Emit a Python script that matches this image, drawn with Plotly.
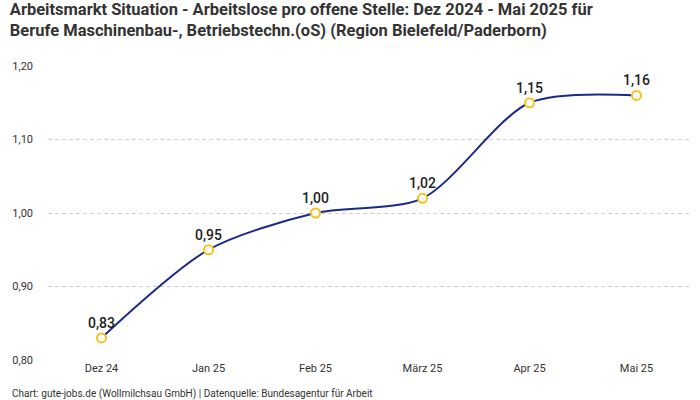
import plotly.graph_objects as go

months = ["Dez 24", "Jan 25", "Feb 25", "März 25", "Apr 25", "Mai 25"]
values = [0.83, 0.95, 1.00, 1.02, 1.15, 1.16]
y_ticks = [0.80, 0.90, 1.00, 1.10, 1.20]

title = ("Arbeitsmarkt Situation - Arbeitslose pro offene Stelle: Dez 2024 - Mai 2025 für<br>"
         "Berufe Maschinenbau-, Betriebstechn.(oS) (Region Bielefeld/Paderborn)")
footer = "Chart: gute-jobs.de (Wollmilchsau GmbH) | Datenquelle: Bundesagentur für Arbeit"

fig = go.Figure()
fig.add_trace(go.Scatter(
    x=months, y=values,
    mode="lines+markers+text",
    line=dict(color="#1b2a8a", width=2, shape="spline", smoothing=0.8),
    marker=dict(symbol="circle", size=9, color="white",
                line=dict(color="#f7c21a", width=2)),
    text=[f"{v:.2f}".replace(".", ",") for v in values],
    textposition="top center",
    textfont=dict(family="Roboto", size=14, color="#222222", weight=500),
    hoverinfo="skip",
    cliponaxis=False,
))

fig.update_layout(
    width=700, height=400,
    margin=dict(l=48, r=10, t=66, b=40),
    paper_bgcolor="white", plot_bgcolor="white",
    separators=",.",
    showlegend=False,
    title=dict(text=title, x=0.014, xanchor="left", y=0.9625, yanchor="top",
               font=dict(family="Roboto", size=16.5, color="#333333", weight="bold")),
    xaxis=dict(type="category", range=[-0.5, 5.5], showgrid=False, showline=False,
               ticks="", tickfont=dict(family="Roboto", size=11, color="#333333")),
    yaxis=dict(range=[0.80, 1.20], tickvals=y_ticks, tickformat=".2f",
               showgrid=True, gridcolor="#cfcfcf", griddash="4px,3px", gridwidth=1,
               zeroline=False, showline=False, ticks="",
               ticklabelstandoff=14,
               tickfont=dict(family="Roboto", size=11, color="#333333")),
    annotations=[dict(text=footer, xref="paper", yref="paper", x=-0.059, y=-0.09,
                      xanchor="left", yanchor="top", showarrow=False,
                      font=dict(family="Roboto", size=10, color="#333333"))],
)

fig.write_html("out.html", config={"displayModeBar": False},
               post_script="document.body.style.margin='0';document.body.style.overflow='hidden';")
